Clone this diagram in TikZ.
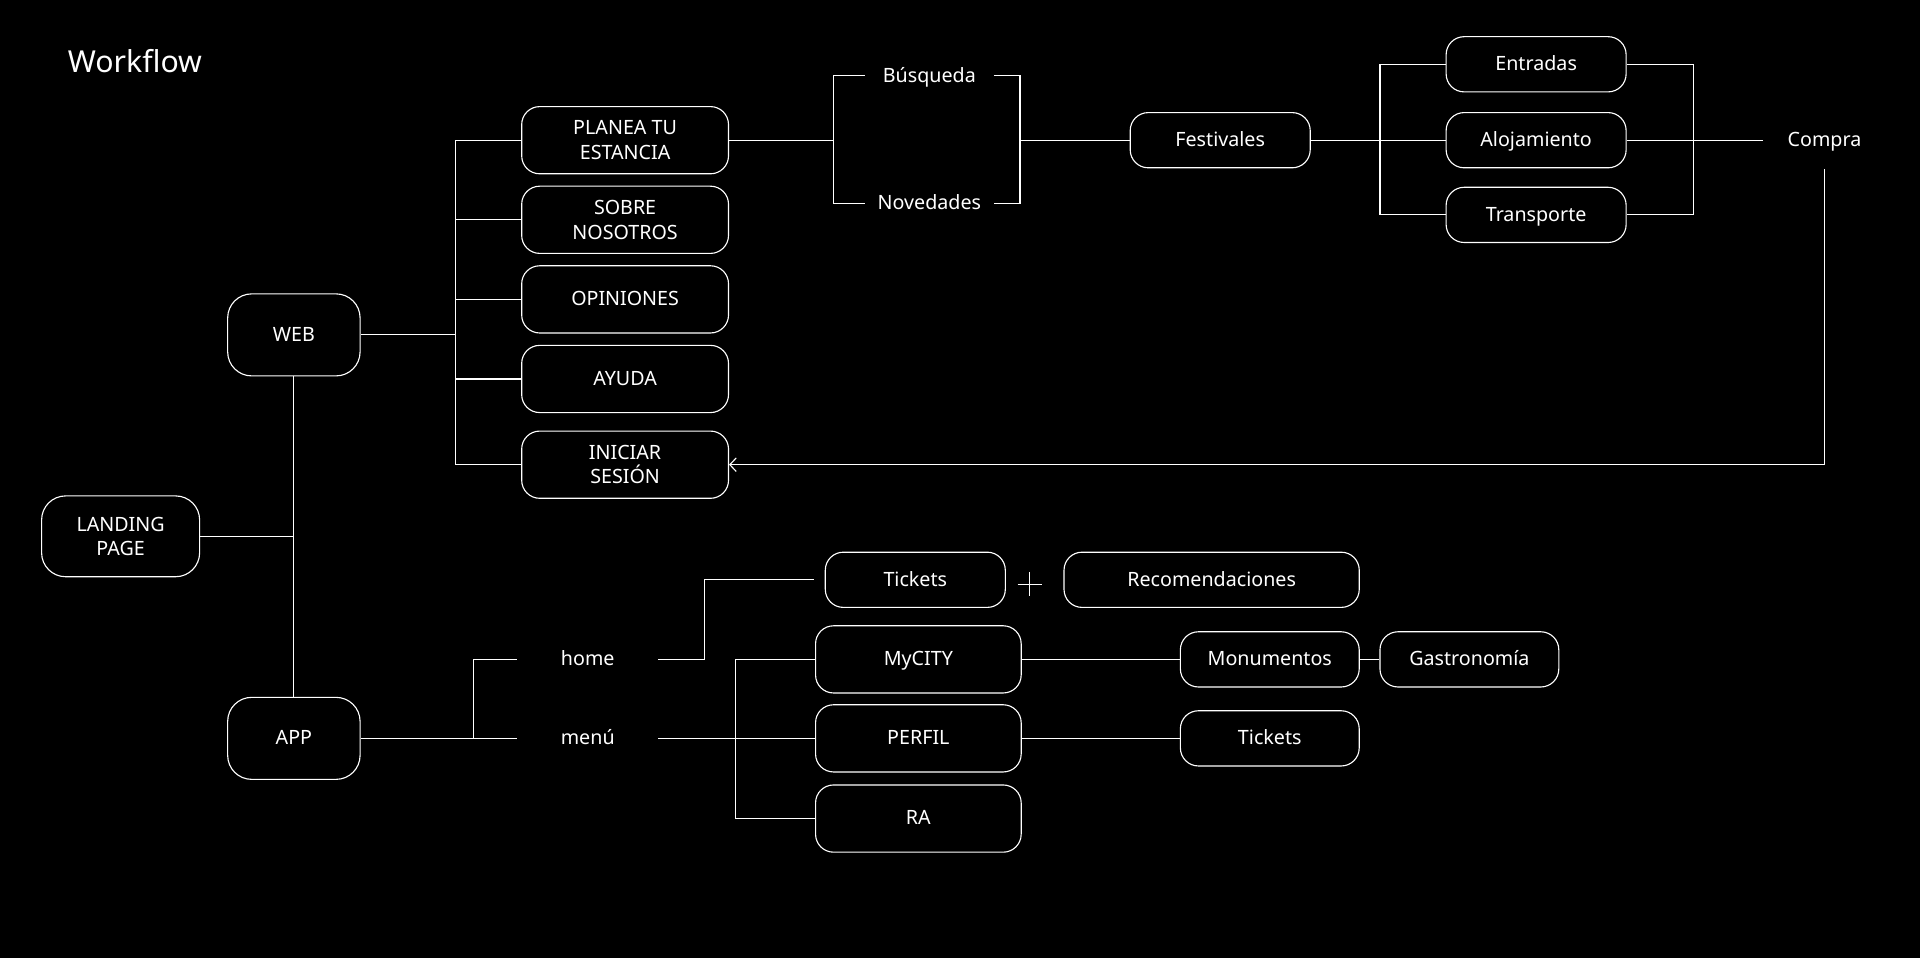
\documentclass[tikz,border=0pt]{standalone}
\usepackage{fontspec}
\setmainfont{Noto Sans}
\usetikzlibrary{positioning, calc, arrows.meta}

\begin{document}
\begin{tikzpicture}[x=0.03061cm, y=-0.03061cm, color=white, line width=0.8pt,
  every node/.style={font=\fontsize{14}{17.4}\selectfont},
  oneline/.style={text height=0.9em, text depth=0em},
  box/.style={draw, rounded corners=0.45cm, align=center, inner sep=0pt},
  bigbox/.style={box, minimum width=3.31cm, minimum height=2.05cm, rounded corners=0.6cm},
  webbox/.style={box, minimum width=5.17cm, minimum height=1.68cm},
  smallbox/.style={box, oneline, minimum width=4.5cm, minimum height=1.38cm},
  tag/.style={oneline, inner sep=0pt, minimum height=1.4cm}]
% Background
\fill[black] (0,0) rectangle (1568,782.4);
\useasboundingbox (0,0) rectangle (1568,782.4);

% Title
\node[anchor=west, inner sep=0pt, font=\fontsize{21.5}{25}\selectfont] (title) at (55,50) {Workflow};

% Root and main branches
\node[bigbox, minimum width=3.95cm, minimum height=2.02cm] (landing) at (98.5,438) {LANDING\\PAGE};
\node[bigbox, oneline] (web) at (240,273.5) {WEB};
\node[bigbox, oneline] (app) at (240,603) {APP};
\draw (web.south) -- (app.north);
\draw (landing.east) -- (landing.east -| web.south);

% Web menu
\node[webbox] (planea) at (510.5,114.5) {PLANEA TU\\ESTANCIA};
\node[webbox] (sobre) at (510.5,179.5) {SOBRE\\NOSOTROS};
\node[webbox, oneline] (opin) at (510.5,244.5) {OPINIONES};
\node[webbox, oneline] (ayuda) at (510.5,309.5) {AYUDA};
\node[webbox] (iniciar) at (510.5,379.5) {INICIAR\\SESIÓN};
\coordinate (wbus) at (372,273.5);
\draw (web.east) -- (wbus);
\draw (planea.west -| wbus) -- (iniciar.west -| wbus);
\foreach \n in {planea,sobre,opin,ayuda,iniciar}
  \draw (\n.west -| wbus) -- (\n.west);

% Planea tu estancia
\node[tag, minimum width=3.2cm] (busq) at (759,62) {Búsqueda};
\node[tag, minimum width=3.2cm] (noved) at (759,166) {Novedades};
\coordinate (pbr) at (681,114.5);
\coordinate (nbr) at (833,114.5);
\draw (planea.east) -- (pbr);
\draw (busq.west) -| (pbr) |- (noved.west);
\draw (busq.east) -| (nbr) |- (noved.east);
\node[smallbox] (fest) at (996.5,114.5) {Festivales};
\draw (nbr) -- (fest.west);

% Festivales
\node[smallbox] (entr) at (1254.5,52.5) {Entradas};
\node[smallbox] (aloj) at (1254.5,114.5) {Alojamiento};
\node[smallbox] (trans) at (1254.5,175.5) {Transporte};
\coordinate (fbr) at (1127,114.5);
\coordinate (cbr) at (1383,114.5);
\draw (fest.east) -- (aloj.west);
\draw (entr.west) -| (fbr) |- (trans.west);
\draw (entr.east) -| (cbr) |- (trans.east);
\node[tag, minimum width=3.06cm] (compra) at (1490,114.5) {Compra};
\draw (aloj.east) -- (compra.west);
\draw[-{Straight Barb[length=1.6mm, width=3.4mm]}] (compra.south) |- (iniciar.east);

% App
\node[tag, minimum width=3.49cm] (home) at (480,538.5) {home};
\node[tag, minimum width=3.49cm] (menu) at (480,603) {menú};
\coordinate (abr) at (387,603);
\draw (app.east) -- (menu.west);
\draw (abr) |- (home.west);

\node[smallbox] (tick) at (747.5,473.5) {Tickets};
\node[smallbox, minimum width=7.38cm] (recom) at (989.5,473.5) {Recomendaciones};
\coordinate (hk) at (575,473.5);
\draw (home.east) -| (hk) -- ([xshift=-0.28cm]tick.west);
\coordinate (plus) at (841,477);
\draw (plus) ++(-10,0) -- ++(20,0) (plus) ++(0,-10) -- ++(0,20);

\node[webbox, oneline, minimum width=5.14cm] (mycity) at (750,538.5) {MyCITY};
\node[webbox, oneline, minimum width=5.14cm] (perfil) at (750,603) {PERFIL};
\node[webbox, oneline, minimum width=5.14cm] (ra) at (750,668.5) {RA};
\coordinate (mbr) at (601,603);
\draw (menu.east) -- (perfil.west);
\draw (mycity.west) -| (mbr) |- (ra.west);

\node[smallbox, minimum width=4.47cm] (monum) at (1037,538.5) {Monumentos};
\node[smallbox, minimum width=4.47cm] (gastro) at (1200,538.5) {Gastronomía};
\node[smallbox, minimum width=4.47cm] (tick2) at (1037,603) {Tickets};
\draw (mycity.east) -- (monum.west);
\draw (monum.east) -- (gastro.west);
\draw (perfil.east) -- (tick2.west);
\end{tikzpicture}
\end{document}
